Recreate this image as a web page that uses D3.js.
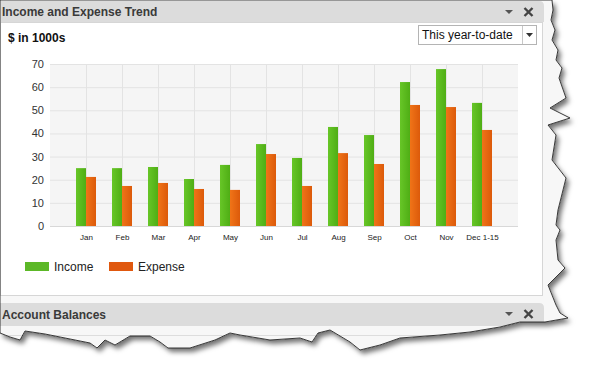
<!DOCTYPE html>
<html>
<head>
<meta charset="utf-8">
<script src="https://cdn.jsdelivr.net/npm/d3@7"></script>
<style>
  html, body { margin: 0; padding: 0; background: #fff; }
  svg { display: block; font-family: "Liberation Sans", Arial, sans-serif; }
</style>
</head>
<body>
<svg id="chart" width="593" height="374"></svg>
<script>
const months = ["Jan", "Feb", "Mar", "Apr", "May", "Jun", "Jul", "Aug", "Sep", "Oct", "Nov", "Dec 1-15"];
const income = [25, 25, 25.5, 20.3, 26.4, 35.4, 29.4, 42.8, 39.3, 62.2, 67.8, 53.2];
const expense = [21.2, 17.3, 18.6, 16, 15.6, 31.1, 17.3, 31.5, 26.8, 52.3, 51.4, 41.5];
const yTicks = [0, 10, 20, 30, 40, 50, 60, 70];

const svg = d3.select("#chart");
const defs = svg.append("defs");

const shadow = defs.append("filter").attr("id", "shadow")
    .attr("x", "-10%").attr("y", "-10%").attr("width", "130%").attr("height", "130%");
shadow.append("feDropShadow")
    .attr("dx", 3).attr("dy", 4).attr("stdDeviation", 2.5)
    .attr("flood-color", "#000").attr("flood-opacity", 0.55);

// gradients for the bars
function grad(id, a, b) {
    const g = defs.append("linearGradient").attr("id", id)
        .attr("x1", 0).attr("x2", 1).attr("y1", 0).attr("y2", 0);
    g.append("stop").attr("offset", 0).attr("stop-color", a);
    g.append("stop").attr("offset", 1).attr("stop-color", b);
}
grad("gInc", "#67c627", "#4fae15");
grad("gExp", "#f07418", "#dc5a0a");

// torn screenshot shape
const torn = [[0, 0], [552, 0], [553, 10], [551, 20], [555, 30], [552, 40], [558, 50], [556, 60],
    [562, 68], [559, 78], [566, 98], [550, 108], [570, 118], [548, 125], [556, 135], [552, 160],
    [566, 178], [563, 190], [558, 210], [556, 225], [560, 230], [556, 240], [558, 260], [565, 268],
    [548, 285], [552, 295], [556, 305], [560, 313], [568, 318], [545, 322], [520, 322], [500, 327],
    [470, 332], [440, 335], [400, 338], [380, 345], [360, 350], [350, 342], [330, 330], [318, 333],
    [312, 342], [300, 338], [270, 340], [240, 335], [230, 333], [215, 340], [190, 348], [168, 348],
    [160, 342], [150, 336], [130, 336], [115, 345], [105, 340], [97, 348], [90, 343], [65, 338],
    [45, 334], [25, 331], [20, 340], [10, 337], [0, 333]];
const tornPath = "M" + torn.map(p => p.join(",")).join("L") + "Z";

defs.append("clipPath").attr("id", "tornClip").append("path").attr("d", tornPath);

svg.append("path").attr("d", tornPath)
    .attr("fill", "#fff").attr("filter", "url(#shadow)");

const page = svg.append("g").attr("clip-path", "url(#tornClip)");

// window background
page.append("rect").attr("x", 0).attr("y", 0).attr("width", 593).attr("height", 374).attr("fill", "#f7f7f7");

// panel body
page.append("rect").attr("x", 0.5).attr("y", 22.5).attr("width", 542).attr("height", 273)
    .attr("fill", "#fff").attr("stroke", "#d6d6d6");

// title bar
page.append("path")
    .attr("d", "M0,1 H539 Q544,1 544,6 V22 H0 Z")
    .attr("fill", "#dcdcdc");
page.append("text").attr("x", 2).attr("y", 16)
    .attr("font-size", 12).attr("font-weight", "bold").attr("fill", "#3a3a3a")
    .text("Income and Expense Trend");

function icons(cy) {
    page.append("path")
        .attr("d", `M505,${cy - 2} L513,${cy - 2} L509,${cy + 2} Z`)
        .attr("fill", "#555");
    page.append("path")
        .attr("d", `M524.5,${cy - 4} L532.5,${cy + 4} M532.5,${cy - 4} L524.5,${cy + 4}`)
        .attr("stroke", "#444").attr("stroke-width", 2.4);
}
icons(12);

// units label
page.append("text").attr("x", 8).attr("y", 42)
    .attr("font-size", 12).attr("font-weight", "bold").attr("fill", "#111")
    .text("$ in 1000s");

// dropdown
page.append("rect").attr("x", 418.5).attr("y", 25.5).attr("width", 118).attr("height", 19)
    .attr("fill", "#fff").attr("stroke", "#b4b4b4");
page.append("line").attr("x1", 522.5).attr("x2", 522.5).attr("y1", 26).attr("y2", 44)
    .attr("stroke", "#c8c8c8");
page.append("path").attr("d", "M526,33 L533,33 L529.5,37 Z").attr("fill", "#333");
page.append("text").attr("x", 422).attr("y", 39)
    .attr("font-size", 12).attr("fill", "#111")
    .text("This year-to-date");

// chart
const x = d3.scalePoint().domain(months).range([50, 518]).padding(1);
const y = d3.scaleLinear().domain([0, 70]).range([226, 64]);
const barW = 10;

page.append("rect").attr("x", 50).attr("y", y(70)).attr("width", 468).attr("height", y(0) - y(70))
    .attr("fill", "#f5f5f5");

page.append("g")
    .attr("transform", "translate(50,0)")
    .call(d3.axisLeft(y).tickValues(yTicks).tickSize(-468).tickFormat(""))
    .call(g => g.select(".domain").remove())
    .call(g => g.selectAll("line").attr("stroke", "#e3e3e3"));

page.append("g")
    .attr("transform", `translate(0,${y(70)})`)
    .call(d3.axisBottom(x).tickSize(y(0) - y(70)).tickFormat(""))
    .call(g => g.select(".domain").remove())
    .call(g => g.selectAll("line").attr("stroke", "#e3e3e3"));

page.append("line").attr("x1", 50).attr("x2", 518).attr("y1", y(0) + 0.5).attr("y2", y(0) + 0.5)
    .attr("stroke", "#d8d8d8");

page.append("g")
    .attr("transform", "translate(44,0)")
    .call(d3.axisLeft(y).tickValues(yTicks).tickSize(0).tickPadding(0))
    .call(g => g.select(".domain").remove())
    .call(g => g.selectAll("text").attr("font-size", 11).attr("fill", "#333")
        .attr("font-family", "'Liberation Sans', Arial, sans-serif"));

page.append("g")
    .attr("transform", `translate(0,${y(0) + 6})`)
    .call(d3.axisBottom(x).tickSize(0).tickPadding(2))
    .call(g => g.select(".domain").remove())
    .call(g => g.selectAll("text").attr("font-size", 8).attr("fill", "#222")
        .attr("font-family", "'Liberation Sans', Arial, sans-serif"));

page.append("g").selectAll("rect")
    .data(months)
    .join("rect")
    .attr("x", (d) => x(d) - barW)
    .attr("y", (d, i) => y(income[i]))
    .attr("width", barW)
    .attr("height", (d, i) => y(0) - y(income[i]))
    .attr("fill", "url(#gInc)");

page.append("g").selectAll("rect")
    .data(months)
    .join("rect")
    .attr("x", (d) => x(d))
    .attr("y", (d, i) => y(expense[i]))
    .attr("width", barW)
    .attr("height", (d, i) => y(0) - y(expense[i]))
    .attr("fill", "url(#gExp)");

// legend
const legend = [{ name: "Income", color: "#5cb827", x: 25 }, { name: "Expense", color: "#e0580e", x: 109 }];
legend.forEach(l => {
    page.append("rect").attr("x", l.x).attr("y", 262).attr("width", 24).attr("height", 9).attr("fill", l.color);
    page.append("text").attr("x", l.x + 29).attr("y", 271)
        .attr("font-size", 12).attr("fill", "#222").text(l.name);
});

// account balances bar
page.append("path")
    .attr("d", "M0,303 H539 Q544,303 544,308 V326 H0 Z")
    .attr("fill", "#dcdcdc");
page.append("text").attr("x", 2).attr("y", 319)
    .attr("font-size", 12).attr("font-weight", "bold").attr("fill", "#3a3a3a")
    .text("Account Balances");
icons(314);
page.append("line").attr("x1", 0).attr("x2", 544).attr("y1", 335.5).attr("y2", 335.5).attr("stroke", "#ddd");

// torn outline
svg.append("path").attr("d", tornPath)
    .attr("fill", "none").attr("stroke", "#222").attr("stroke-width", 0.9);
</script>
</body>
</html>
